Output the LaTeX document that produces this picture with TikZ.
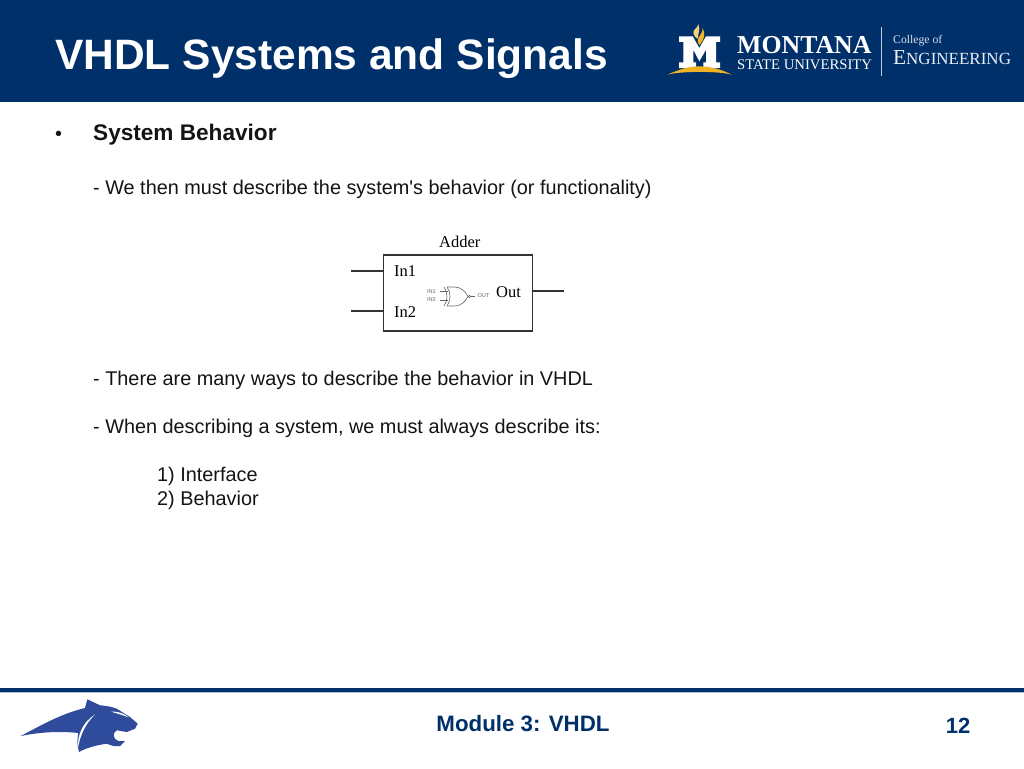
\documentclass[tikz,border=0pt]{standalone}
\usepackage{fontspec}
\setmainfont{Liberation Sans}
\newfontfamily\serifface{Liberation Serif}
\newfontfamily\plainface{Liberation Sans}
\definecolor{msunavy}{HTML}{00306A}
\definecolor{msugold}{HTML}{F0B323}
\definecolor{msublue}{HTML}{2F4B9B}
\definecolor{gateGray}{HTML}{666666}
\tikzset{
  bodytext/.style={anchor=base west,inner sep=0pt,font=\fontsize{19.85}{24}\selectfont,text=black!92},
  boldtext/.style={anchor=base west,inner sep=0pt,font=\fontsize{22.6}{26}\selectfont\bfseries,text=black!92},
  diagtext/.style={anchor=base west,inner sep=0pt,font=\fontsize{16.5}{18}\selectfont\serifface,text=black},
  wire/.style={draw=black!80,line width=1.1pt},
  gatetext/.style={inner sep=0pt,font=\fontsize{5.6}{6}\selectfont,text=gateGray},
  gateline/.style={draw=gateGray,line width=.6pt},
  logotext/.style={anchor=base west,inner sep=0pt,text=white},
}
\begin{document}
\begin{tikzpicture}[x=1pt,y=-1pt]
\useasboundingbox (0,0) rectangle (1024,768);
\fill[white] (0,0) rectangle (1024,768);
% header
\fill[msunavy] (0,0) rectangle (1024,102);
\node[anchor=base west,inner sep=0pt,text=white,font=\fontsize{42.5}{48}\selectfont\bfseries] (title) at (55,69) {VHDL Systems and Signals};
% logo: M, flame and arc
\fill[white] (679,36.3) -- (692.7,36.3) -- (699.3,48) -- (706,36.3) -- (720,36.3) -- (720,42) -- (716,42) -- (716,62.3) -- (720,62.3) -- (720,68) -- (703.3,68) -- (703.3,62.3) -- (706,62.3) -- (706,49.7) -- (699.3,61.3) -- (693.3,49.7) -- (693.3,62.3) -- (696,62.3) -- (696,68) -- (679,68) -- (679,62.3) -- (683.3,62.3) -- (683.3,42) -- (679,42) -- cycle;
\fill[msugold] (667.3,74.7) .. controls (680,69) and (690,66.3) .. (699.3,66.3) .. controls (710,66.3) and (722,69.5) .. (731.7,74.7) .. controls (720,71) and (680,71) .. (667.3,74.7) -- cycle;
\fill[msugold!60!white] (698.3,24) .. controls (698,28) and (693.3,29) .. (693.3,33) .. controls (693.3,36) and (696,38) .. (698.3,39) .. controls (697,34) and (701,30) .. (698.3,24) -- cycle;
\fill[msugold] (702.7,28) .. controls (706,34) and (704,40) .. (699.3,45.3) .. controls (697,42) and (697.5,39) .. (699,37) .. controls (701,34) and (702.5,32) .. (702.7,28) -- cycle;
\node[logotext,font=\fontsize{25.8}{28}\selectfont\bfseries\serifface] (montana) at (737,54) {MONTANA};
\node[logotext,font=\fontsize{14.7}{16}\selectfont\serifface] (state) at (737,70) {STATE UNIVERSITY};
\fill[white!75!msunavy] (881,27) rectangle (882,76);
\node[logotext,font=\fontsize{11.7}{13}\selectfont\serifface,text=white!85!msunavy] (college) at (893,44) {College of};
\node[logotext,font=\fontsize{21.3}{24}\selectfont\serifface,text=white!92!msunavy] (eng) at (893,64) {E\fontsize{17}{24}\selectfont NGINEERING};
% body
\node[bodytext] (bullet) at (55,140) {•};
\node[boldtext] (sb) at (93,140) {System Behavior};
\node[bodytext] (l1) at (93,194) {- We then must describe the system{\plainface '}s behavior (or functionality)};
\node[bodytext] (l2) at (93,385) {- There are many ways to describe the behavior in VHDL};
\node[bodytext] (l3) at (93,433) {- When describing a system, we must always describe its:};
\node[bodytext] (l4) at (157,481) {1) Interface};
\node[bodytext] (l5) at (157,505) {2) Behavior};
% diagram
\node[diagtext] (adder) at (439,247) {Adder};
\node[draw=black!80,line width=1.1pt,minimum width=149pt,minimum height=76pt,inner sep=0pt] (box) at (458,293) {};
\coordinate (w1a) at (351,271);
\coordinate (w2a) at (351,311);
\coordinate (w3a) at (564,291);
\draw[wire] (w1a) -- (w1a -| box.west);
\draw[wire] (w2a) -- (w2a -| box.west);
\draw[wire] (w3a -| box.east) -- (w3a);
\node[diagtext] (in1) at (394,276) {In1};
\node[diagtext] (in2) at (394,317) {In2};
\node[diagtext] (outl) at (496,297) {Out};
% gate
\node[gatetext] (gi1) at (431.5,291.5) {IN1};
\node[gatetext] (gi2) at (431.5,300) {IN2};
\node[gatetext] (go) at (483.5,296) {OUT};
\draw[gateline] (444,287) .. controls (448,292) and (448,301) .. (444,306);
\draw[gateline] (447,287) .. controls (451,292) and (451,301) .. (447,306);
\draw[gateline] (447,287) -- (454,287) .. controls (461,287) and (465,291) .. (468,296.5) .. controls (465,302) and (461,306) .. (454,306) -- (447,306);
\draw[gateline] (469.5,296.5) circle (1.3);
\draw[gateline] (471,296.5) -- (474.5,296.5);
\draw[gateline] (440,291.5) -- (448,291.5);
\draw[gateline] (440,300.5) -- (448,300.5);
% footer
\fill[msunavy] (0,688) rectangle (1024,691.5);
\fill[msunavy!30!white] (0,691.5) rectangle (1024,692.5);
\fill[msublue] (20.7,736) .. controls (40,726) and (60,714) .. (85,708) -- (87.3,699.3) -- (100,705.3) .. controls (108,706) and (112,707) .. (116.7,708.7) -- (130,717) -- (137.7,723.7) -- (135,728.7) -- (126.7,732) -- (116.7,730.3) .. controls (112,733) and (113,739) .. (118.3,741) -- (125,741) -- (120,746) -- (113.3,746) -- (106.7,743.7) .. controls (98,745) and (88,747) .. (79,752) .. controls (77,745) and (77,740) .. (78.3,733) .. controls (60,731) and (40,732) .. (20.7,736) -- cycle;
\fill[white] (78,748) .. controls (77,735) and (83,722) .. (95,714.5) .. controls (86,723) and (80,735) .. (78,748) -- cycle;
\fill[white] (111,711.5) .. controls (118,711.5) and (124,713) .. (128.5,717.5) .. controls (123,715) and (118,714) .. (111,711.5) -- cycle;
\node[anchor=base,inner sep=0pt,text=msunavy,font=\fontsize{22.3}{26}\selectfont\bfseries] (module) at (523,731) {Module 3: VHDL};
\node[anchor=base,inner sep=0pt,text=msunavy,font=\fontsize{22}{26}\selectfont\bfseries] (page) at (958,733) {12};
\end{tikzpicture}
\end{document}
